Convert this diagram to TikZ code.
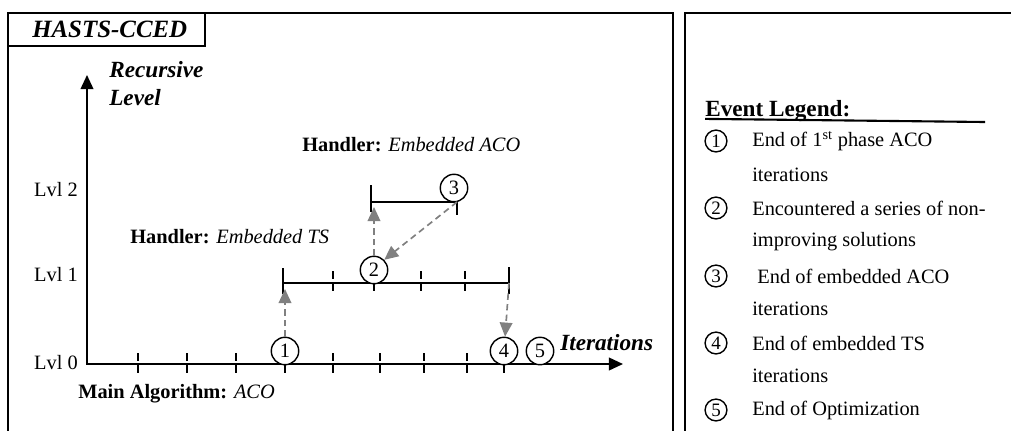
\documentclass[tikz,border=0pt]{standalone}
\usepackage{fontspec}
\setmainfont{Liberation Serif}
\usetikzlibrary{arrows.meta,positioning}

\begin{document}
\begin{tikzpicture}[x=0.025cm,y=-0.025cm,
		every node/.style={font=\fontsize{14.5}{17}\selectfont},
		frame/.style={line width=1.3pt},
		bar/.style={line width=1.2pt},
		tickmark/.style={line width=1pt,dash pattern=on 6pt off 2pt},
		evt/.style={circle,draw,fill=white,line width=1pt,minimum size=19.5pt,inner sep=0pt},
		levt/.style={circle,draw,line width=1pt,minimum size=15.5pt,inner sep=0pt,font=\fontsize{13.5}{15}\selectfont},
		jump/.style={gray,line width=1.2pt,dash pattern=on 4.5pt off 3pt,-{Triangle[length=10pt,width=9pt]}},
		big/.style={anchor=west,inner sep=0pt,font=\fontsize{16.5}{19}\selectfont\bfseries\itshape},
		lbl/.style={anchor=west,inner sep=0pt}]
		\useasboundingbox (0,0) rectangle (1011,430);
		\clip (0,0) rectangle (1011,430);
		% the two panels
		\draw[frame] (8,450) |- (673,13) -- (673,450);
		\draw[frame] (685,450) |- (1030,13);
		\draw[frame] (8,13) rectangle (205,46);
		\node[big,font=\fontsize{17.7}{20}\selectfont\bfseries\itshape] (title) at (32,29.5) {HASTS-CCED};
		% axes
		\coordinate (ytop) at (87,75);
		\coordinate (o) at (87,364);
		\coordinate (xend) at (623,364);
		\draw[line width=1.3pt,{Triangle[length=10pt,width=9pt]}-{Triangle[length=10pt,width=9pt]}] (ytop) -- (o) -- (xend);
		\node[big] (rec) at (109,70) {Recursive};
		\node[big] (lev) at (109,98) {Level};
		\node[big] (iter) at (560,343) {Iterations};
		\node[anchor=east,inner sep=0pt] (lvl2) at (78,190) {Lvl 2};
		\node[anchor=east,inner sep=0pt] (lvl1) at (78,275) {Lvl 1};
		\node[anchor=east,inner sep=0pt] (lvl0) at (78,363) {Lvl 0};
		\foreach \x in {138,187,236,285,333,380,424,467,504}
			\draw[tickmark] (\x,353) -- (\x,374);
		% embedded TS on level 1
		\coordinate (tsL) at (283,283);
		\coordinate (tsR) at (509,283);
		\draw[bar] (283,268) -- (283,294);
		\draw[bar] (509,267) -- (509,294);
		\draw[bar] (tsL) -- (tsR);
		\foreach \x in {333,374,421,465}
			\draw[tickmark] (\x,271) -- (\x,292);
		% embedded ACO on level 2
		\coordinate (acoL) at (371,202);
		\coordinate (acoR) at (457,202);
		\draw[bar] (371,185) -- (371,212);
		\draw[bar] (457,202) -- (457,215);
		\draw[bar] (acoL) -- (acoR);
		\node[lbl] (hts) at (130,237) {\textbf{Handler:} \textit{Embedded TS}};
		\node[lbl] (haco) at (302,145) {\textbf{Handler:} \textit{Embedded ACO}};
		\node[lbl] (main) at (78,394) {\textbf{Main Algorithm:} \textit{ACO}};
		% events
		\node[evt] (e1) at (285,351) {1};
		\node[evt] (e2) at (374,270) {2};
		\node[evt] (e3) at (454,188) {3};
		\node[evt] (e4) at (504,351) {4};
		\node[evt] (e5) at (540,351) {5};
		\coordinate (up1) at (285,289);
		\coordinate (up2) at (374,207);
		\draw[jump] (e1) -- (up1);
		\draw[jump] (e2) -- (up2);
		\draw[jump] (acoR) -- (e2.north east);
		\draw[jump] (tsR) -- (e4);
		% legend
		\node[lbl,font=\fontsize{16.5}{19}\selectfont\bfseries] (leg) at (705,111) {Event Legend:};
		\draw[line width=1.5pt] (leg.south west) ++(0,-3) coordinate (ulL) -- (985,122);
		\node[levt] (l1) at (716,141) {1};
		\node[lbl] (t1) at (752,141) {End of 1\textsuperscript{st} phase ACO};
		\node[lbl] (t1b) at (752,175) {iterations};
		\node[levt] (l2) at (716,208) {2};
		\node[lbl] (t2) at (752,208) {Encountered a series of non-};
		\node[lbl] (t2b) at (752,242) {improving solutions};
		\node[levt] (l3) at (716,276) {3};
		\node[lbl] (t3) at (752,276) {\ End of embedded ACO};
		\node[lbl] (t3b) at (752,309) {iterations};
		\node[levt] (l4) at (716,343) {4};
		\node[lbl] (t4) at (752,343) {End of embedded TS};
		\node[lbl] (t4b) at (752,376) {iterations};
		\node[levt] (l5) at (716,410) {5};
		\node[lbl] (t5) at (752,410) {End of Optimization};
\end{tikzpicture}
\end{document}
